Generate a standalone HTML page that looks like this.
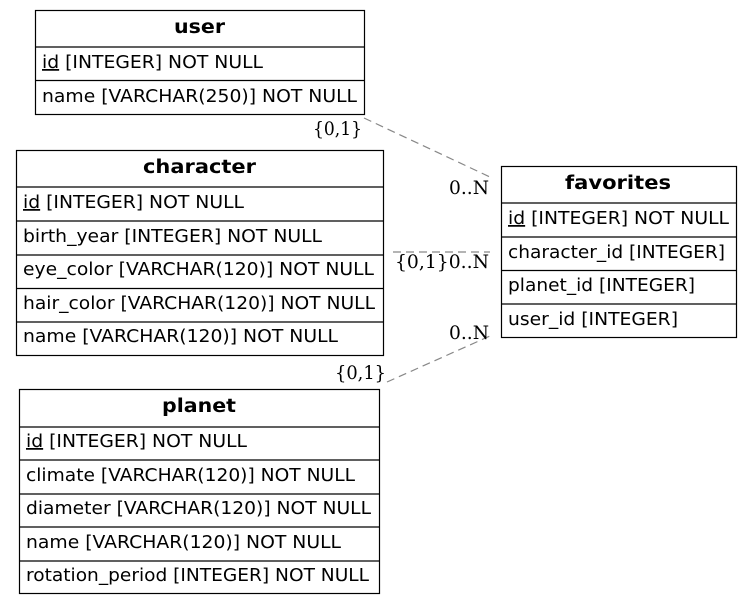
<!DOCTYPE html>
<html><head><style>html,body{margin:0;padding:0;background:#fff}</style></head><body>
<svg width="752" height="603" xmlns="http://www.w3.org/2000/svg" font-family="DejaVu Sans, Liberation Sans, sans-serif" font-size="17.5">
<rect width="752" height="603" fill="#fff"/>
<g stroke="#888" stroke-width="1.2" stroke-dasharray="8,5" fill="none">
<line x1="364" y1="118" x2="490" y2="177"/>
<line x1="393" y1="252" x2="490" y2="252"/>
<line x1="387" y1="382" x2="490" y2="336"/>
</g>
<g font-family="DejaVu Serif, Liberation Serif, serif" font-size="18.5" fill="#000">
<text x="313" y="135" textLength="49" lengthAdjust="spacingAndGlyphs">{0,1}</text>
<text x="449" y="194" textLength="40" lengthAdjust="spacingAndGlyphs">0..N</text>
<text x="395" y="268" textLength="94" lengthAdjust="spacingAndGlyphs">{0,1}0..N</text>
<text x="449" y="339" textLength="40" lengthAdjust="spacingAndGlyphs">0..N</text>
<text x="335" y="379" textLength="51" lengthAdjust="spacingAndGlyphs">{0,1}</text>
</g>
<g fill="none" stroke="#000" stroke-width="1.2">
<rect x="35.5" y="10.5" width="329" height="104"/>
<line x1="35" y1="47" x2="365" y2="47"/><line x1="35" y1="80.5" x2="365" y2="80.5"/>
<rect x="16.5" y="150.5" width="367" height="205"/>
<line x1="16" y1="187" x2="384" y2="187"/><line x1="16" y1="221" x2="384" y2="221"/><line x1="16" y1="255" x2="384" y2="255"/><line x1="16" y1="288.5" x2="384" y2="288.5"/><line x1="16" y1="322" x2="384" y2="322"/>
<rect x="19.5" y="389.5" width="360" height="204"/>
<line x1="19" y1="427" x2="380" y2="427"/><line x1="19" y1="460" x2="380" y2="460"/><line x1="19" y1="494" x2="380" y2="494"/><line x1="19" y1="527" x2="380" y2="527"/><line x1="19" y1="561" x2="380" y2="561"/>
<rect x="501.5" y="166.5" width="235" height="171"/>
<line x1="501" y1="203" x2="737" y2="203"/><line x1="501" y1="237" x2="737" y2="237"/><line x1="501" y1="270.5" x2="737" y2="270.5"/><line x1="501" y1="304" x2="737" y2="304"/>
</g>
<g fill="#000">
<text x="174" y="33" font-weight="bold" font-size="18.5" textLength="51" lengthAdjust="spacingAndGlyphs">user</text>
<text x="42" y="68" textLength="221" lengthAdjust="spacingAndGlyphs"><tspan text-decoration="underline">id</tspan> [INTEGER] NOT NULL</text>
<text x="42" y="102" textLength="315" lengthAdjust="spacingAndGlyphs">name [VARCHAR(250)] NOT NULL</text>
<text x="143" y="173" font-weight="bold" font-size="18.5" textLength="113" lengthAdjust="spacingAndGlyphs">character</text>
<text x="23" y="208" textLength="221" lengthAdjust="spacingAndGlyphs"><tspan text-decoration="underline">id</tspan> [INTEGER] NOT NULL</text>
<text x="23" y="242" textLength="299" lengthAdjust="spacingAndGlyphs">birth_year [INTEGER] NOT NULL</text>
<text x="23" y="275" textLength="351" lengthAdjust="spacingAndGlyphs">eye_color [VARCHAR(120)] NOT NULL</text>
<text x="23" y="309" textLength="352" lengthAdjust="spacingAndGlyphs">hair_color [VARCHAR(120)] NOT NULL</text>
<text x="23" y="342" textLength="315" lengthAdjust="spacingAndGlyphs">name [VARCHAR(120)] NOT NULL</text>
<text x="162" y="412" font-weight="bold" font-size="18.5" textLength="74" lengthAdjust="spacingAndGlyphs">planet</text>
<text x="26" y="447" textLength="221" lengthAdjust="spacingAndGlyphs"><tspan text-decoration="underline">id</tspan> [INTEGER] NOT NULL</text>
<text x="26" y="481" textLength="329" lengthAdjust="spacingAndGlyphs">climate [VARCHAR(120)] NOT NULL</text>
<text x="26" y="514" textLength="345" lengthAdjust="spacingAndGlyphs">diameter [VARCHAR(120)] NOT NULL</text>
<text x="26" y="548" textLength="315" lengthAdjust="spacingAndGlyphs">name [VARCHAR(120)] NOT NULL</text>
<text x="26" y="581" textLength="343" lengthAdjust="spacingAndGlyphs">rotation_period [INTEGER] NOT NULL</text>
<text x="565" y="189" font-weight="bold" font-size="18.5" textLength="106" lengthAdjust="spacingAndGlyphs">favorites</text>
<text x="508" y="224" textLength="221" lengthAdjust="spacingAndGlyphs"><tspan text-decoration="underline">id</tspan> [INTEGER] NOT NULL</text>
<text x="508" y="258" textLength="217" lengthAdjust="spacingAndGlyphs">character_id [INTEGER]</text>
<text x="508" y="291" textLength="187" lengthAdjust="spacingAndGlyphs">planet_id [INTEGER]</text>
<text x="508" y="325" textLength="170" lengthAdjust="spacingAndGlyphs">user_id [INTEGER]</text>
</g>
</svg>
</body></html>
